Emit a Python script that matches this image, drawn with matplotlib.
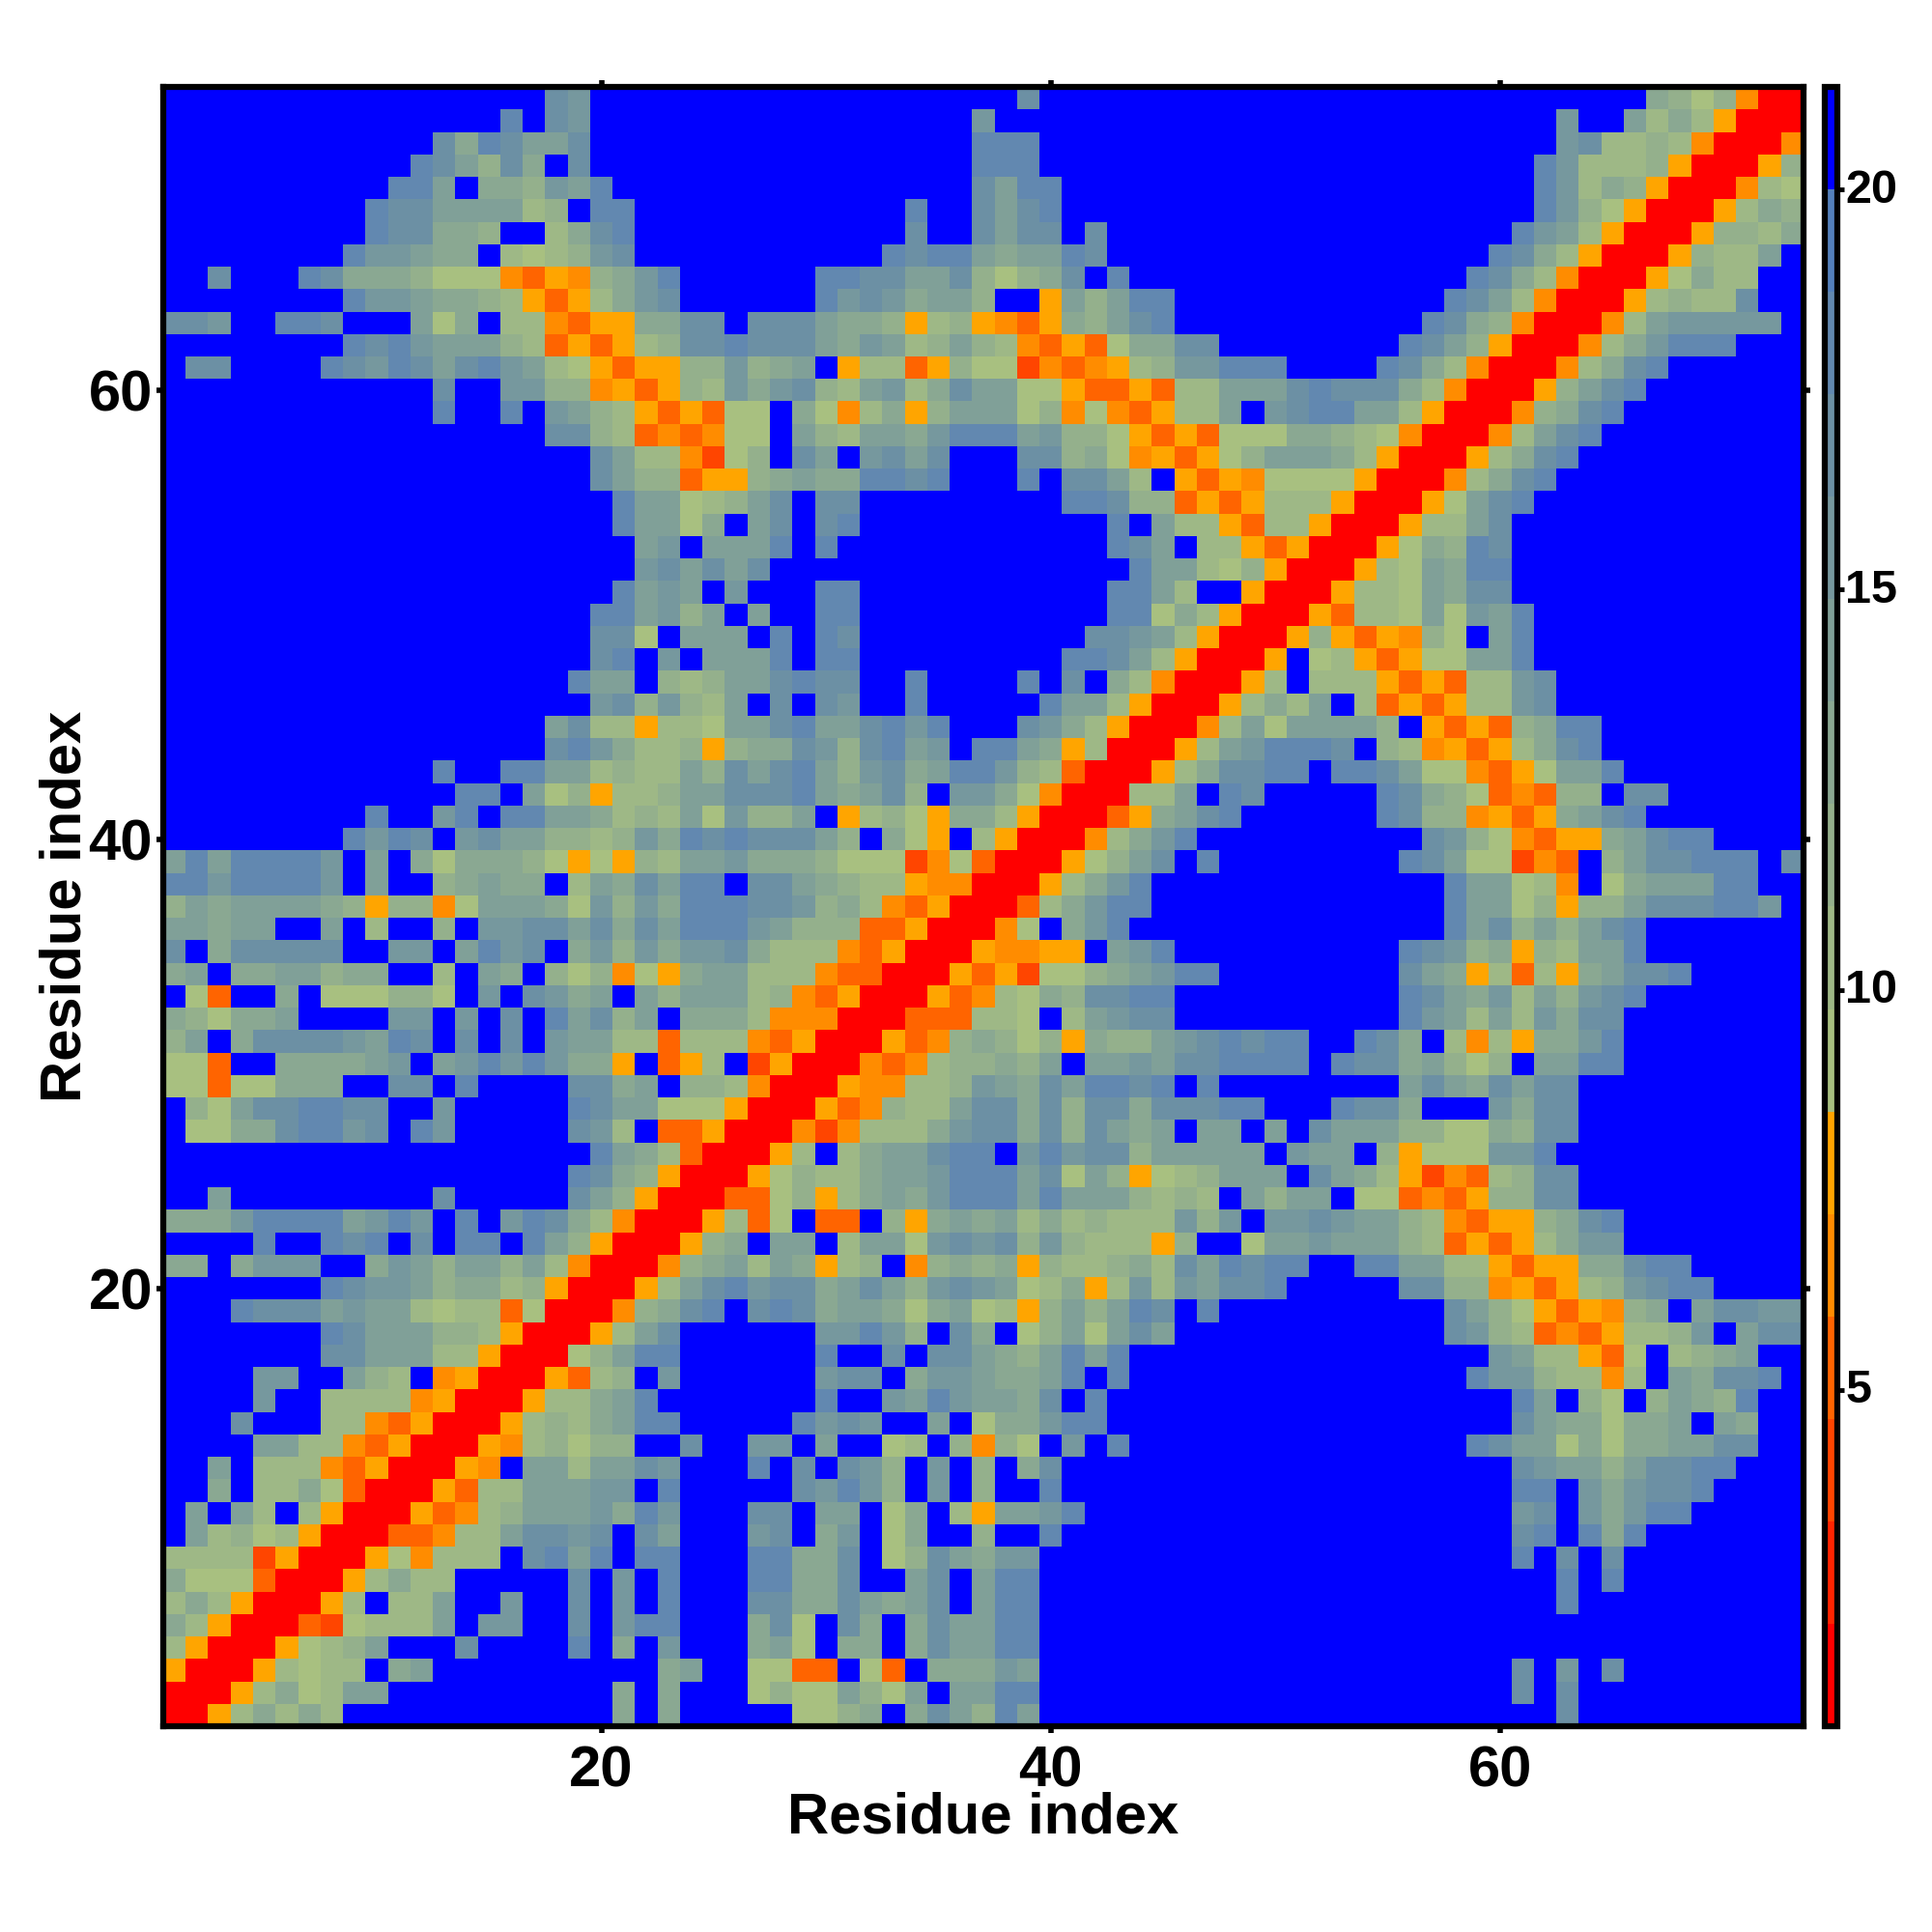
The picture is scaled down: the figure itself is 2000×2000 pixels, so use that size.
import numpy as np
import matplotlib
matplotlib.use("Agg")
import matplotlib.pyplot as plt
from matplotlib.colors import ListedColormap, BoundaryNorm
from matplotlib.transforms import ScaledTranslation

plt.rcParams['font.family'] = ['Liberation Sans', 'DejaVu Sans']
plt.rcParams['font.weight'] = 'bold'

n = 73
blank = "." * 18

# lower triangle of the symmetric map, residue 73 first, each row holds x = 1..y
# one letter per cell
rows = [
    ".................g" "f................." "..g..............." "............dcacnRR",
    "...............h.g" "f................." "f................." "........f..ebdboRR",
    "............gdhgee" "g................." "hhh..............." "........fgbbcbnRR",
    "...........hgecgd." "g................." "hhh..............." ".......hfbbbcoRR",
    "..........hhe.ddcf" "eh................" "gehh.............." ".......hfbdcoRR",
    ".........hggeeeebc" ".hh............h.." "gegh.............." ".......hfcaoRR",
    ".........hggddc..b" "dgh............g.." "gegg.g............" "......hfeboRR",
    "........hffedd.bab" "cfg...........hghh" "edeehg............" ".....hgdboRR",
    "..g...hgdddcaaanxo" "ncdfh......hhggeeg" "cacdg.h..........." "....hgdbnRR",
    "........hffeddcbox" "obdfg......hfgfdee" "c..oecehh........." "...hgebnRR",
    "ggf..hhg...ead.bbn" "xooddgg.gggeddcobc" "onxodcegh........." "..hgdcnRR",
    "........hghfeeecbx" "oxobcgghgggedfebce" "cbnxoxaddgg......." ".hgecoRR",
    ".gg....hgfhgeghfeb" "aoxooccfcde.obbxoc" "aatnxnobcffhhh...." "hgdbnRR",
    "............g..ffc" "cnoxocbfdfgcbefbdg" "eeaaoxxoxbbeeeghgg" "gdbnRR",
    "............h..h.f" "ecboxoxaa.danbdoce" "eeacnanxobbe.fghhe" "eboRR",
    ".................g" "gcbxnxnaa.ecbeedfh" "hhefccaoxoxaaaddcb" "anRR",
    blank + ".gebbntac.ge.fgeg." "..ggcdanoxoaceeedb" "oRR",
    blank + ".geccxoocdeddhhgh." "..h.ggeb.oxonaaaao" "RR",
    blank + "..heeabceg.gg....." "....hhgccxoxobbboR" "R",
    blank + "..heead.eg.gh....." "......h.ebboxbboRR",
    blank + "...ef.eeeh.h......" "......hge.bboxoRR",
    blank + "...fgegeg........." ".......heebacoRR",
    blank + "..hefe.f...hh....." "......hheb..oRR",
    blank + ".hhefce.e..hh....." "......hhadboRR",
    blank + ".gga.eee.h.hg....." ".....ggfeboRR",
    blank + ".gh.f.eeeh.hh....." "....hhgeboRR",
    blank + "hee.cbceeghgg..h.." "..h.g.dbnRR",
    blank + ".fgcfcbe.g.gf..h.." "...heeboRR",
    ".................e" "gbbobbaeeghee" "ghfh." "..gfdboRR",
    ".................g" "hfdbbcocddgfcghef." "hhedobRR",
    "............h..hhe" "ebcbbecgeghecfgdeh" "hfcbxRR",
    ".............hh.ea" "cobbceeggghedegc.f" "fdanRR",
    ".........h..fh.hhe" "edbcbeafcce.obcaod" "dboRR",
    "........hfhg.fgeec" "cbcfdhghgggec.dao." "boRR",
    "ehehhhhf.e.dadddca" "oaocbeefdddcaaatna" "xRR",
    "hhfhhhhf.e..cdedd." "bedgehh.ggedcbbonn" "RR",
    "cedeeeedcoccnaeeed" "afcfdhhhggfcdbnxoR" "R",
    "eedee..e.b..c.ffgg" "egdgehhhfecccxxoRR",
    "g.dggggg..ff.ehfg." "dfcfdffgdbbbnxoRR",
    "de.ddeecdd..b.ed.c" "acnaodeebbbnxxRR",
    ".ax..d.aaacca.f.gf" "de.eceeebcnxoRR",
    "dcadde....ff.f.g.h" "egce.dddbnnnRR",
    "ce.dggggfehg.g.g.f" "eebbxbbbnxoRR",
    "aax..ddddef.efhfhf" "ddo.xob.toRR",
    "aaxaaddd..gg.h...." "ggde.ccbnRR",
    ".caegghhgg..f....." "hgeeaaaoRR",
    ".aaddghhfg.hf....." "gfb.xxoRR",
    blank + ".hedbxRR",
    blank + "hgdcoRR",
    "..e.........g....." "gecoRR",
    "dddfhhhhefhf.h.fhg" "dbnRR",
    "....h..hgh.g.hh.he" "coRR",
    "dd.dfff..dfeceeceb" "nRR",
    ".......hgffecddbco" "RR",
    "...hgggefeebabbxaRR",
    ".......hgeeeccboRR",
    ".......ggeeebboRR",
    "....ff..ecb.noRR",
    "....f..bbbbnoRR",
    "...g...bbnxoRR",
    "....eebbnxoRR",
    "..e.bbbnxoRR",
    "..d.bbdaxRR",
    ".e.eb.boRR",
    ".ebcaboRR",
    "bbbbtoRR",
    "daaaxRR",
    "bdboRR",
    "dboRR",
    "boRR",
    "oRR",
    "RR",
    "R",
]

levels = [0.8 + 1.28 * i for i in range(17)]
letters = "Rstxnoabcdefghi."
colours = ['#FF0000', '#FF2400', '#FF4500', '#FF6400', '#FF8C00', '#FFA500',
           '#A8C080', '#9EB886', '#94B08C', '#8AA892', '#80A098', '#76989E',
           '#6C90A4', '#6288B0', '#5480BC', '#0000FF']
ticks = [20, 40, 60]
cbar_ticks = [5, 10, 15, 20]

value = {c: levels[i] + 0.64 for i, c in enumerate(letters)}
dist = np.full((n, n), value['.'])
for i, row in enumerate(rows):
    y = n - i
    if len(row) != y:
        print("row", y, "has", len(row))
    for x, c in enumerate(row[:y]):
        dist[y - 1, x] = value[c]
        dist[x, y - 1] = value[c]

cmap = ListedColormap(colours)
norm = BoundaryNorm(levels, cmap.N)

fig = plt.figure(figsize=(20, 20), dpi=100)
ax = fig.add_axes([169 / 2000, 1 - 1787 / 2000, 1698 / 2000, 1697 / 2000])
im = ax.imshow(dist, origin='lower', extent=(0.5, n + 0.5, 0.5, n + 0.5), cmap=cmap, norm=norm,
               interpolation='nearest', aspect='auto')
ax.set_xticks(ticks)
ax.set_yticks(ticks)
ax.tick_params(top=True, right=True, length=5, width=4, labelsize=43)
ax.tick_params(axis='x', pad=9)
ax.tick_params(axis='y', pad=3)
ax.set_xlabel("Residue index", fontsize=43, fontweight='bold', labelpad=-5)
ax.set_ylabel("Residue index", fontsize=43, fontweight='bold', labelpad=-3)
for s in ax.spines.values():
    s.set_linewidth(4.5)

cax = fig.add_axes([1889 / 2000, 1 - 1787 / 2000, 13 / 2000, 1697 / 2000])
cb = fig.colorbar(im, cax=cax, ticks=cbar_ticks, spacing='proportional', drawedges=False)
cb.ax.tick_params(length=5, width=3.5, labelsize=35, pad=1)
cb.outline.set_linewidth(4.5)
cb.ax.minorticks_off()
for lab in cb.ax.get_yticklabels():
    lab.set_transform(lab.get_transform() + ScaledTranslation(0, 4 / 100, fig.dpi_scale_trans))

fig.savefig("out.png", dpi=100)
